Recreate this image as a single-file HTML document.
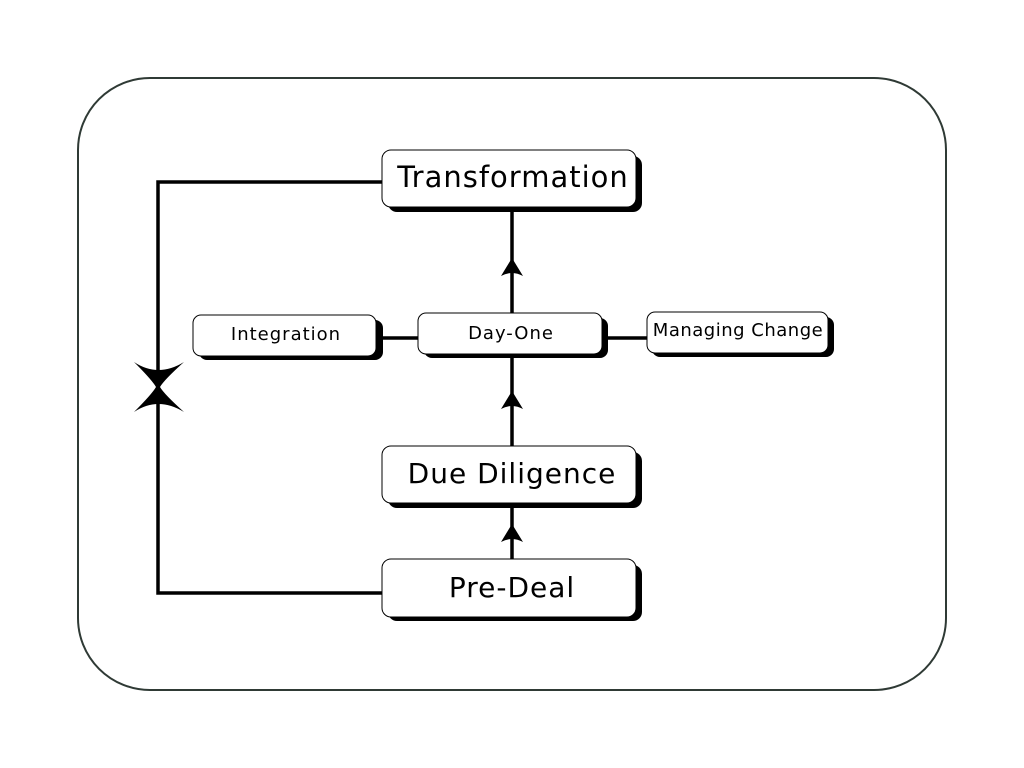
<!DOCTYPE html>
<html><head><meta charset="utf-8"><style>
html,body{margin:0;padding:0;background:#fff;}
svg{display:block;}
text{font-family:"DejaVu Sans","Liberation Sans",sans-serif;fill:#000;}
</style></head><body>
<svg width="1024" height="768" viewBox="0 0 1024 768" xmlns="http://www.w3.org/2000/svg">
<rect x="78" y="78" width="868" height="612" rx="72" ry="72" fill="#fff" stroke="#2f3a35" stroke-width="2"/>
<g stroke="#000" stroke-width="3.5" fill="none">
<polyline points="382,182 158,182 158,593 382,593"/>
<line x1="512" y1="208" x2="512" y2="313"/>
<line x1="512" y1="355" x2="512" y2="446"/>
<line x1="512" y1="504" x2="512" y2="559"/>
<line x1="377" y1="338" x2="418" y2="338"/>
<line x1="603" y1="338" x2="647" y2="338"/>
</g>
<g fill="#000">
<path d="M512,258 L523,276 Q512,270 501,276 Z"/>
<path d="M512,391 L523,409 Q512,403 501,409 Z"/>
<path d="M512,524 L523,542 Q512,536 501,542 Z"/>
<path d="M134,362 Q158,378 184,362 Q164,380 160,387 Q164,394 184,412 Q158,396 134,412 Q152,394 156,387 Q152,380 134,362 Z"/>
</g>
<g>
<rect x="388" y="156" width="254" height="56" rx="9" fill="#000"/>
<rect x="382" y="150" width="254" height="57" rx="9" fill="#fff" stroke="#000" stroke-width="1"/>
<text x="513" y="187" font-size="29" text-anchor="middle" letter-spacing="1">Transformation</text>

<rect x="199" y="320" width="184" height="40" rx="8" fill="#000"/>
<rect x="193" y="315" width="183" height="41" rx="8" fill="#fff" stroke="#000" stroke-width="1"/>
<text x="286" y="340" font-size="18" text-anchor="middle" letter-spacing="1">Integration</text>

<rect x="424" y="318" width="184" height="40" rx="8" fill="#000"/>
<rect x="418" y="313" width="184" height="41" rx="8" fill="#fff" stroke="#000" stroke-width="1"/>
<text x="511" y="339" font-size="18" text-anchor="middle" letter-spacing="1">Day-One</text>

<rect x="652" y="317" width="182" height="40" rx="8" fill="#000"/>
<rect x="647" y="312" width="181" height="41" rx="8" fill="#fff" stroke="#000" stroke-width="1"/>
<text x="738" y="336" font-size="18" text-anchor="middle" letter-spacing="0.5">Managing Change</text>

<rect x="388" y="452" width="254" height="56" rx="9" fill="#000"/>
<rect x="382" y="446" width="254" height="57" rx="9" fill="#fff" stroke="#000" stroke-width="1"/>
<text x="512" y="483" font-size="28" text-anchor="middle" letter-spacing="1">Due Diligence</text>

<rect x="388" y="565" width="254" height="56" rx="9" fill="#000"/>
<rect x="382" y="559" width="254" height="58" rx="9" fill="#fff" stroke="#000" stroke-width="1"/>
<text x="512" y="597" font-size="28" text-anchor="middle" letter-spacing="1">Pre-Deal</text>
</g>
</svg>
</body></html>
